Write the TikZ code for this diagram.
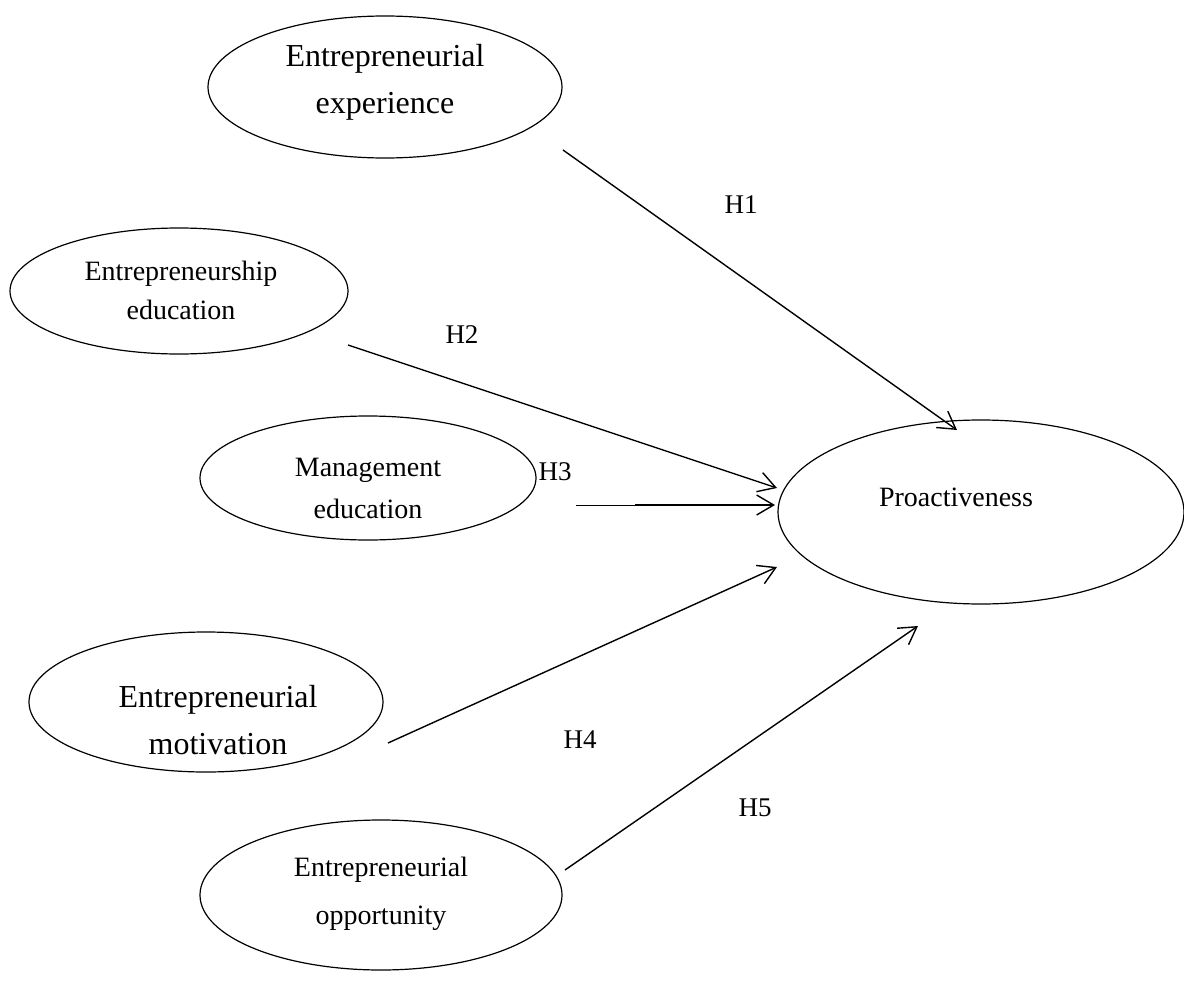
\documentclass[tikz,border=0pt]{standalone}
\usepackage{fontspec}
\setmainfont{Liberation Serif}
\usetikzlibrary{shapes.geometric,arrows.meta}

\tikzset{
  ell/.style={ellipse, draw=black, line width=1.2pt, inner sep=0pt},
  txtbig/.style={align=center, font=\fontsize{32}{47}\selectfont},
  txtsmall/.style={align=center, font=\fontsize{28}{42}\selectfont},
  hyp/.style={font=\fontsize{27}{30}\selectfont},
  arr/.style={line width=1.4pt, -{Straight Barb[length=17pt, width=20pt, line width=1.4pt]}},
}

\begin{document}
\begin{tikzpicture}[x=1pt, y=-1pt]
\useasboundingbox (0,0) rectangle (1184,1001);
%% -- Construct ellipses -----------------------------------------------------
\node[ell, minimum width=354pt, minimum height=142pt] (exp) at (385,87) {};
\node[ell, minimum width=338pt, minimum height=126pt] (edu) at (179,291) {};
\node[ell, minimum width=336pt, minimum height=124pt] (mgt) at (368,478) {};
\node[ell, minimum width=354pt, minimum height=140pt] (mot) at (206,702) {};
\node[ell, minimum width=362pt, minimum height=150pt] (opp) at (381,895) {};
\node[ell, minimum width=406pt, minimum height=184pt] (pro) at (981,512) {};
%% -- Construct labels -------------------------------------------------------
\node[txtbig]   (exptxt) at (385,82)  {Entrepreneurial\\experience};
\node[txtsmall] (edutxt) at (181,290) {Entrepreneurship\\[-3pt]education};
\node[txtsmall] (mgttxt) at (368,488) {Management\\education};
\node[txtbig]   (mottxt) at (218,720) {Entrepreneurial\\motivation};
\node[txtsmall] (opptxt) at (381,894) {Entrepreneurial\\[6pt]opportunity};
\node[txtsmall] (protxt) at (956,497) {Proactiveness};
%% -- Path end points --------------------------------------------------------
\coordinate (h1s) at (563,150);  \coordinate (h1e) at (957,430);
\coordinate (h2s) at (348,345);  \coordinate (h2e) at (777,488);
\coordinate (h3s) at (576,505);  \coordinate (h3m) at (635,505);
\coordinate (h3e) at (775,505);
\coordinate (h4s) at (388,743);  \coordinate (h4e) at (777,567);
\coordinate (h5s) at (565,870);  \coordinate (h5e) at (918,626);
%% -- Hypothesised paths -----------------------------------------------------
\draw[arr] (h1s) -- (h1e);
\draw[arr] (h2s) -- (h2e);
\draw[line width=0.7pt] (h3s) -- (h3m);
\draw[arr] (h3m) -- (h3e);
\draw[arr] (h4s) -- (h4e);
\draw[arr] (h5s) -- (h5e);
%% -- Hypothesis labels ------------------------------------------------------
\node[hyp] (hone)   at (741,205) {H1};
\node[hyp] (htwo)   at (462,335) {H2};
\node[hyp] (hthree) at (555,472) {H3};
\node[hyp] (hfour)  at (580,740) {H4};
\node[hyp] (hfive)  at (755,808) {H5};
\end{tikzpicture}
\end{document}
